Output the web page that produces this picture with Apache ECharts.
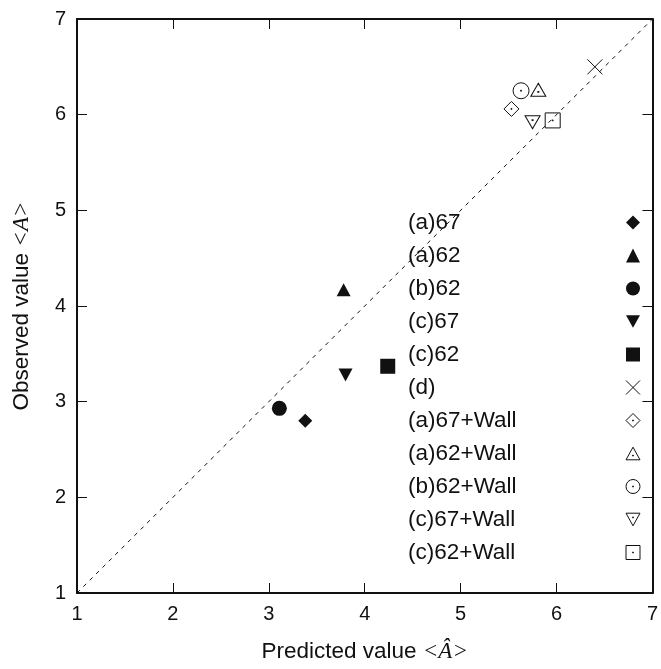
<!DOCTYPE html>
<html>
<head>
<meta charset="utf-8">
<script src="https://cdn.jsdelivr.net/npm/echarts@6/dist/echarts.min.js"></script>
<style>html,body{margin:0;padding:0;background:#fff;}#c{width:661px;height:669px;}</style>
</head>
<body>
<div id="c"></div>
<script>
var seriesNames = ['(a)67','(a)62','(b)62','(c)67','(c)62','(d)','(a)67+Wall','(a)62+Wall','(b)62+Wall','(c)67+Wall','(c)62+Wall'];
var predicted = [3.38, 3.78, 3.11, 3.80, 4.24, 6.40, 5.53, 5.81, 5.63, 5.75, 5.96];
var observed  = [2.80, 4.17, 2.93, 3.28, 3.37, 6.50, 6.06, 6.26, 6.25, 5.92, 5.94];
var diagonal = [[1, 1], [7, 7]];
var axisTicks = [1, 2, 3, 4, 5, 6, 7];

var DOT = ' M4.7,4.7L5.3,4.7L5.3,5.3L4.7,5.3Z';
var symbols = [
  {s: 'diamond', size: [14, 14], filled: true},
  {s: 'triangle', size: [14, 13], filled: true},
  {s: 'circle', size: 15, filled: true},
  {s: 'path://M0,0L10,0L5,9Z', size: [14, 13], filled: true},
  {s: 'rect', size: 15, filled: true},
  {s: 'path://M0,0L10,10M10,0L0,10', size: 15, filled: false},
  {s: 'path://M5,0L10,5L5,10L0,5Z' + DOT, size: 15, filled: false},
  {s: 'path://M5,0L10,9L0,9Z M4.7,5.7L5.3,5.7L5.3,6.3L4.7,6.3Z', size: [15, 13], filled: false},
  {s: 'path://M10,5A5,5,0,1,1,0,5A5,5,0,1,1,10,5Z' + DOT, size: 16, filled: false},
  {s: 'path://M0,0L10,0L5,9Z M4.7,2.7L5.3,2.7L5.3,3.3L4.7,3.3Z', size: [15, 13], filled: false},
  {s: 'path://M0,0L10,0L10,10L0,10Z' + DOT, size: 15, filled: false}
];

var FONT = '"Liberation Sans", Arial, sans-serif';
var INK = '#111111';

var series = seriesNames.map(function (name, i) {
  var sym = symbols[i];
  return {
    name: name,
    type: 'scatter',
    symbol: sym.s,
    symbolSize: sym.size,
    data: [[predicted[i], observed[i]]],
    itemStyle: sym.filled ? {color: INK, opacity: 1} : {color: 'none', borderColor: INK, borderWidth: 1, opacity: 1},
    emphasis: {disabled: true},
    z: 3
  };
});
series.unshift({
  name: 'diag',
  type: 'line',
  data: diagonal,
  symbol: 'none',
  silent: true,
  lineStyle: {color: INK, width: 1, type: [4, 5]},
  z: 2
});

var mathRich = {m: {fontFamily: '"Liberation Serif", "DejaVu Serif", serif', fontStyle: 'italic', fontSize: 23, color: INK}};

var chart = echarts.init(document.getElementById('c'), null, {renderer: 'canvas'});
chart.setOption({
  animation: false,
  backgroundColor: '#fff',
  grid: {left: 77, right: 8, top: 19, bottom: 76, containLabel: false},
  xAxis: [{
    type: 'value', min: axisTicks[0], max: axisTicks[axisTicks.length - 1], interval: 1,
    position: 'bottom',
    axisLine: {show: true, onZero: false, lineStyle: {color: INK, width: 2}},
    axisTick: {show: true, inside: true, length: 10, lineStyle: {color: INK, width: 1}},
    axisLabel: {color: INK, fontSize: 20, fontFamily: FONT, margin: 11},
    splitLine: {show: false},
    name: 'Predicted value {m|<Â>}',
    nameLocation: 'middle', nameGap: 47,
    nameTextStyle: {color: INK, fontSize: 22.5, fontFamily: FONT, rich: mathRich}
  }, {
    type: 'value', min: 1, max: 7, interval: 1, position: 'top',
    axisLine: {show: true, onZero: false, lineStyle: {color: INK, width: 2}},
    axisTick: {show: true, inside: true, length: 10, lineStyle: {color: INK, width: 1}},
    axisLabel: {show: false}, splitLine: {show: false}
  }],
  yAxis: [{
    type: 'value', min: axisTicks[0], max: axisTicks[axisTicks.length - 1], interval: 1,
    position: 'left',
    axisLine: {show: true, onZero: false, lineStyle: {color: INK, width: 2}},
    axisTick: {show: true, inside: true, length: 10, lineStyle: {color: INK, width: 1}},
    axisLabel: {color: INK, fontSize: 20, fontFamily: FONT, margin: 11, padding: [0, 0, 8, 0]},
    splitLine: {show: false},
    name: 'Observed value {m|<A>}',
    nameLocation: 'middle', nameGap: 44, nameRotate: 90,
    nameTextStyle: {color: INK, fontSize: 22.5, fontFamily: FONT, rich: mathRich}
  }, {
    type: 'value', min: 1, max: 7, interval: 1, position: 'right',
    axisLine: {show: true, onZero: false, lineStyle: {color: INK, width: 2}},
    axisTick: {show: true, inside: true, length: 10, lineStyle: {color: INK, width: 1}},
    axisLabel: {show: false}, splitLine: {show: false}
  }],
  legend: {
    data: seriesNames,
    orient: 'vertical',
    left: 403,
    top: 206,
    align: 'right',
    itemWidth: 14,
    itemHeight: 14,
    itemGap: 10,
    selectedMode: false,
    itemStyle: {borderWidth: 1},
    formatter: function (name) { return '{t|' + name + '}'; },
    textStyle: {
      color: INK, fontSize: 22.5, fontFamily: FONT,
      rich: {t: {width: 213, align: 'left', fontSize: 22.5, lineHeight: 22, fontFamily: FONT, color: INK}}
    }
  },
  series: series
});
</script>
</body>
</html>
